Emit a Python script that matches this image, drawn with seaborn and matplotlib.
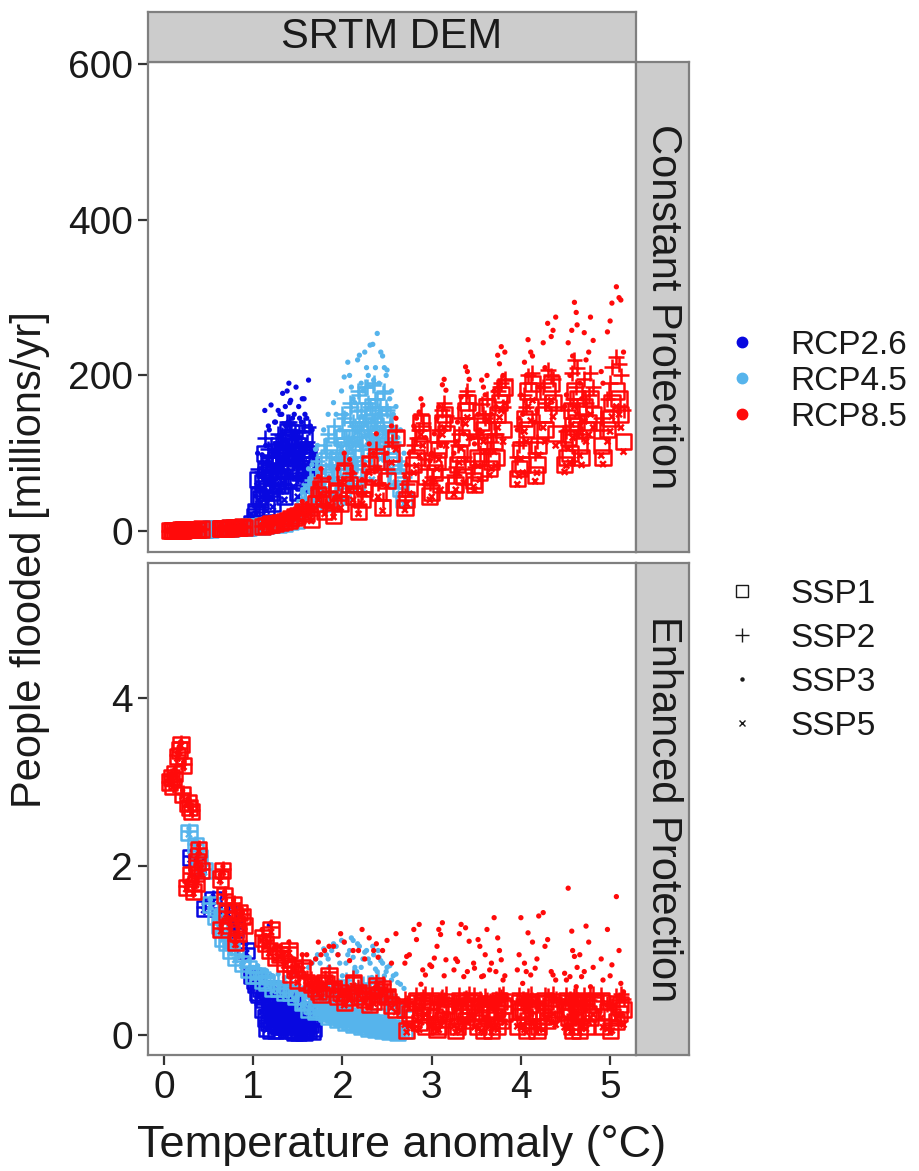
import matplotlib
matplotlib.use("Agg")
import matplotlib.pyplot as plt
from matplotlib.markers import MarkerStyle
from matplotlib.lines import Line2D
import seaborn as sns
import pandas as pd

# ---- data ---------------------------------------------------------------
# each RCP: temperature of every run, then people flooded (millions/yr)
# for constant (c) and enhanced (e) protection, per SSP

t26 = [0.30, 0.38, 0.45, 0.55, 0.72, 0.80, 0.92,
       0.98, 1.03, 1.05, 1.08, 1.12, 1.15, 1.18, 1.20, 1.24, 1.27,
       1.30, 1.33, 1.36, 1.39, 1.42, 1.45, 1.48, 1.52, 1.55, 1.58,
       1.62, 1.66, 1.22, 1.35, 1.50, 1.40, 1.28,
       1.02, 1.06, 1.10, 1.14, 1.17, 1.21, 1.25, 1.29, 1.32, 1.37, 1.41, 1.44, 1.47,
       1.51, 1.54, 1.57, 1.60, 1.64, 1.68, 1.13, 1.26, 1.38, 1.46, 1.56, 1.31]
c26_ssp1 = [1.6, 2.0, 2.3, 2.8, 3.7, 4.2, 5.0,
            10, 25, 66, 40, 55, 30, 75, 50, 85, 60,
            95, 70, 100, 80, 110, 65, 95, 75, 105, 85,
            100, 70, 35, 45, 50, 120, 110,
            18, 45, 62, 72, 88, 58, 92, 78, 105, 88, 118, 98, 78,
            110, 92, 118, 95, 85, 60, 100, 68, 128, 102, 62, 58]
c26_ssp2 = [1.8, 2.2, 2.6, 3.1, 4.1, 4.6, 5.5,
            14, 32, 80, 52, 70, 42, 95, 68, 105, 80,
            115, 92, 125, 105, 130, 90, 120, 100, 128, 110,
            134, 95, 50, 60, 70, 140, 125,
            24, 56, 76, 88, 106, 74, 112, 96, 124, 108, 136, 118, 96,
            128, 112, 136, 115, 105, 78, 120, 86, 140, 122, 80, 74]
c26_ssp3 = [2.1, 2.5, 3.0, 3.6, 4.7, 5.3, 6.5,
            20, 45, 100, 70, 95, 60, 130, 162, 140, 110,
            150, 177, 160, 140, 168, 125, 185, 145, 170, 150,
            194, 130, 75, 85, 100, 190, 155,
            32, 72, 98, 110, 135, 95, 140, 120, 150, 135, 165, 145, 120,
            160, 140, 170, 145, 135, 100, 155, 110, 180, 150, 100, 95]
c26_ssp5 = [1.5, 1.8, 2.1, 2.6, 3.4, 3.8, 4.6,
            9, 22, 58, 35, 48, 26, 66, 44, 75, 53,
            84, 62, 88, 70, 97, 57, 84, 66, 93, 75,
            88, 62, 31, 40, 44, 106, 97,
            16, 40, 55, 63, 77, 51, 81, 69, 92, 77, 104, 86, 69,
            97, 81, 104, 84, 75, 53, 88, 60, 113, 90, 55, 51]
e26_ssp1 = [2.10, 2.00, 1.50, 1.60, 1.45, 1.25, 1.00,
            0.70, 0.60, 0.50, 0.55, 0.42, 0.08, 0.35, 0.05, 0.28, 0.12,
            0.22, 0.25, 0.18, 0.20, 0.14, 0.16, 0.10, 0.12, 0.08, 0.06,
            0.05, 0.04, 0.25, 0.30, 0.18, 0.06, 0.10,
            0.65, 0.48, 0.30, 0.20, 0.15, 0.38, 0.05, 0.30, 0.10, 0.05, 0.22, 0.05, 0.25,
            0.03, 0.15, 0.03, 0.10, 0.12, 0.08, 0.55, 0.40, 0.32, 0.03, 0.20, 0.40]
e26_ssp2 = [2.12, 2.02, 1.52, 1.62, 1.47, 1.27, 1.03,
            0.72, 0.65, 0.55, 0.60, 0.48, 0.14, 0.42, 0.10, 0.35, 0.18,
            0.30, 0.32, 0.26, 0.28, 0.22, 0.24, 0.18, 0.20, 0.15, 0.14,
            0.12, 0.10, 0.32, 0.36, 0.26, 0.12, 0.16,
            0.70, 0.54, 0.36, 0.26, 0.21, 0.44, 0.11, 0.36, 0.16, 0.11, 0.28, 0.11, 0.31,
            0.09, 0.21, 0.09, 0.16, 0.18, 0.14, 0.61, 0.46, 0.38, 0.09, 0.26, 0.46]
e26_ssp3 = [2.15, 2.05, 1.55, 1.65, 1.50, 1.30, 1.08,
            0.78, 0.75, 0.70, 0.72, 0.65, 0.30, 1.30, 0.70, 0.55, 0.40,
            0.50, 0.58, 0.45, 0.52, 0.40, 0.48, 0.36, 0.42, 0.32, 0.38,
            0.30, 0.34, 0.50, 0.55, 0.45, 0.30, 0.35,
            0.75, 0.65, 0.50, 0.45, 0.40, 0.55, 0.35, 0.50, 0.40, 0.33, 0.45, 0.30, 0.48,
            0.28, 0.40, 0.25, 0.35, 0.38, 0.30, 0.70, 0.62, 0.55, 0.30, 0.45, 0.60]
e26_ssp5 = [2.08, 1.98, 1.48, 1.58, 1.43, 1.22, 0.97,
            0.66, 0.56, 0.46, 0.51, 0.38, 0.06, 0.31, 0.04, 0.25, 0.10,
            0.19, 0.22, 0.15, 0.17, 0.11, 0.13, 0.08, 0.09, 0.06, 0.05,
            0.04, 0.03, 0.22, 0.26, 0.15, 0.05, 0.08,
            0.62, 0.45, 0.27, 0.17, 0.12, 0.35, 0.03, 0.27, 0.08, 0.03, 0.19, 0.03, 0.22,
            0.02, 0.12, 0.02, 0.08, 0.10, 0.06, 0.52, 0.37, 0.29, 0.02, 0.17, 0.37]

t45 = [0.28, 0.35, 0.45, 0.52, 0.58, 0.66, 0.75, 0.88, 1.00, 1.10, 1.22, 1.35, 1.48,
       1.55, 1.62, 1.70, 1.75, 1.82, 1.88, 1.93, 1.97, 2.02, 2.06,
       2.10, 2.14, 2.19, 2.23, 2.27, 2.31, 2.35, 2.39, 2.43, 2.47,
       2.50, 2.55, 2.60, 2.65, 2.69,
       1.85, 2.00, 2.16, 2.33,
       1.58, 1.66, 1.72, 1.79, 1.84, 1.90, 1.95, 1.99, 2.04, 2.08, 2.12, 2.17, 2.21,
       2.25, 2.29, 2.34, 2.37, 2.41, 2.45, 2.49, 2.53, 2.57, 2.62, 2.12, 2.40,
       0.40, 0.62, 0.70, 0.80, 0.95, 1.05, 1.15, 1.28, 1.42]
c45_ssp1 = [1.5, 1.8, 2.3, 2.7, 3.0, 3.4, 3.9, 4.8, 5.5, 6.5, 8, 10, 14,
            25, 45, 60, 40, 75, 55, 90, 70, 110, 80,
            120, 95, 130, 100, 140, 115, 150, 125, 105, 140,
            110, 90, 70, 55, 40,
            35, 45, 60, 75,
            30, 50, 70, 85, 95, 105, 60, 120, 90, 130, 105, 145, 120,
            155, 130, 160, 135, 120, 150, 125, 100, 85, 65, 70, 90,
            2.0, 3.2, 3.6, 4.2, 5.2, 6.0, 7.0, 9, 12]
c45_ssp2 = [1.7, 2.0, 2.6, 3.0, 3.3, 3.8, 4.3, 5.3, 6.1, 7.3, 9, 12, 18,
            35, 60, 80, 57, 100, 80, 120, 100, 145, 115,
            160, 135, 175, 140, 185, 160, 190, 170, 150, 180,
            155, 130, 110, 85, 70,
            50, 65, 85, 105,
            40, 65, 90, 110, 125, 135, 85, 150, 120, 165, 140, 180, 155,
            185, 165, 188, 170, 155, 178, 160, 135, 115, 90, 95, 120,
            2.2, 3.5, 4.0, 4.6, 5.7, 6.6, 7.8, 10, 15]
c45_ssp3 = [2.0, 2.3, 3.0, 3.4, 3.8, 4.3, 5.0, 6.1, 7.0, 8.5, 11, 15, 24,
            50, 80, 105, 75, 117, 100, 150, 130, 198, 217,
            185, 165, 226, 180, 210, 239, 194, 254, 230, 210,
            207, 180, 160, 130, 100,
            70, 90, 115, 140,
            55, 85, 110, 130, 150, 165, 110, 180, 150, 200, 170, 220, 190,
            230, 200, 240, 210, 190, 225, 200, 170, 150, 120, 120, 150,
            2.6, 4.0, 4.6, 5.4, 6.6, 7.6, 9.0, 13, 20]
c45_ssp5 = [1.4, 1.7, 2.1, 2.5, 2.8, 3.2, 3.6, 4.4, 5.0, 6.0, 7, 9, 12,
            22, 40, 53, 35, 66, 48, 80, 62, 97, 71,
            106, 84, 115, 88, 124, 102, 133, 110, 93, 124,
            97, 80, 62, 48, 35,
            31, 40, 53, 66,
            26, 44, 62, 75, 84, 93, 53, 106, 80, 115, 93, 128, 106,
            137, 115, 141, 119, 106, 133, 110, 88, 75, 57, 62, 80,
            1.9, 2.9, 3.3, 3.8, 4.7, 5.4, 6.3, 8, 10]
e45_ssp1 = [2.40, 2.25, 1.95, 1.55, 1.40, 1.15, 1.00, 0.85, 0.70, 0.65, 0.55, 0.50, 0.45,
            0.38, 0.30, 0.28, 0.35, 0.25, 0.30, 0.22, 0.25, 0.20, 0.23,
            0.18, 0.20, 0.16, 0.18, 0.14, 0.16, 0.12, 0.14, 0.12, 0.10,
            0.10, 0.08, 0.07, 0.05, 0.05,
            0.32, 0.25, 0.20, 0.15,
            0.40, 0.35, 0.30, 0.28, 0.22, 0.24, 0.18, 0.20, 0.15, 0.16, 0.12, 0.14, 0.10,
            0.12, 0.08, 0.10, 0.06, 0.08, 0.05, 0.06, 0.04, 0.05, 0.03, 0.28, 0.22,
            2.10, 1.30, 1.10, 0.92, 0.78, 0.70, 0.62, 0.55, 0.50]
e45_ssp2 = [2.42, 2.27, 1.97, 1.57, 1.42, 1.17, 1.03, 0.88, 0.74, 0.69, 0.60, 0.56, 0.52,
            0.50, 0.45, 0.48, 0.52, 0.45, 0.55, 0.50, 0.48, 0.55, 0.60,
            0.45, 0.50, 0.55, 0.60, 0.48, 0.52, 0.45, 0.55, 0.50, 0.45,
            0.40, 0.38, 0.35, 0.30, 0.28,
            0.50, 0.45, 0.40, 0.42,
            0.55, 0.50, 0.58, 0.45, 0.62, 0.50, 0.58, 0.45, 0.65, 0.50, 0.60, 0.42, 0.58,
            0.50, 0.62, 0.48, 0.55, 0.45, 0.52, 0.42, 0.45, 0.40, 0.35, 0.70, 0.65,
            2.12, 1.33, 1.13, 0.96, 0.82, 0.75, 0.68, 0.62, 0.58]
e45_ssp3 = [2.45, 2.30, 2.00, 1.60, 1.45, 1.20, 1.07, 0.93, 0.80, 0.76, 0.70, 0.68, 0.70,
            0.75, 0.80, 0.90, 0.85, 0.95, 1.00, 1.05, 0.85, 1.10, 0.95,
            1.15, 0.80, 1.05, 0.90, 1.00, 0.85, 0.95, 0.75, 0.88, 0.70,
            0.80, 0.65, 0.72, 0.60, 0.55,
            0.80, 0.70, 0.75, 0.68,
            0.70, 0.85, 0.95, 1.02, 0.90, 1.08, 0.95, 1.12, 0.85, 1.00, 0.92, 1.08, 0.80,
            0.98, 0.90, 1.05, 0.78, 0.92, 0.85, 0.75, 0.82, 0.70, 0.62, 1.12, 1.00,
            2.15, 1.36, 1.17, 1.00, 0.88, 0.82, 0.76, 0.72, 0.72]
e45_ssp5 = [2.38, 2.23, 1.93, 1.53, 1.38, 1.13, 0.98, 0.82, 0.67, 0.62, 0.52, 0.47, 0.42,
            0.34, 0.27, 0.25, 0.31, 0.22, 0.27, 0.19, 0.22, 0.17, 0.20,
            0.15, 0.17, 0.13, 0.15, 0.12, 0.13, 0.10, 0.11, 0.10, 0.08,
            0.08, 0.06, 0.05, 0.04, 0.04,
            0.28, 0.22, 0.17, 0.13,
            0.36, 0.31, 0.27, 0.25, 0.19, 0.21, 0.15, 0.17, 0.13, 0.13, 0.10, 0.12, 0.08,
            0.10, 0.07, 0.08, 0.05, 0.06, 0.04, 0.05, 0.03, 0.04, 0.02, 0.25, 0.19,
            2.08, 1.27, 1.07, 0.89, 0.75, 0.67, 0.59, 0.52, 0.47]

t85 = [0.06, 0.10, 0.15, 0.19, 0.22, 0.27, 0.31, 0.25, 0.33, 0.37, 0.42,
       0.63, 0.68, 0.64, 0.74, 0.85, 0.90,
       1.10, 1.18, 1.25, 1.35, 1.42, 1.50,
       1.65, 1.70, 1.76, 1.80,
       1.90, 1.95, 2.02,
       2.18, 2.25, 2.30,
       2.45, 2.50, 2.55, 2.60,
       2.70, 2.75, 2.80, 2.86, 2.90, 2.93,
       2.98, 3.03, 3.08, 3.12, 3.16, 3.10,
       3.25, 3.29, 3.33, 3.38, 3.42, 3.36,
       3.48, 3.52, 3.56, 3.60, 3.54,
       3.65, 3.70, 3.74, 3.78, 3.80, 3.72,
       3.96, 4.00, 4.04, 4.08, 4.11, 4.02,
       4.16, 4.20, 4.25, 4.30, 4.36, 4.39,
       4.49, 4.53, 4.57, 4.60, 4.62, 4.55,
       4.68, 4.73, 4.78, 4.81,
       4.92, 4.97, 5.02, 5.07, 5.12, 5.15,
       0.08, 0.17, 0.29, 0.36, 0.66, 0.78, 0.83, 0.88,
       1.14, 1.30, 1.46, 1.60, 1.73, 1.98, 2.08, 2.22, 2.35, 2.40,
       2.72, 2.83, 2.88, 3.00, 3.06, 3.14, 3.27, 3.31, 3.40, 3.47,
       3.58, 3.62, 3.67, 3.76, 3.82, 3.98, 4.06, 4.13, 4.18, 4.27,
       4.34, 4.51, 4.58, 4.63, 4.66, 4.71, 4.76, 4.90, 5.00, 5.10,
       0.12, 0.21, 0.30, 0.39, 0.70, 0.80, 1.20, 1.40, 1.55, 1.85, 2.12, 2.38]
c85_ssp1 = [0.5, 1.0, 1.0, 1.2, 1.4, 1.6, 1.8, 1.5, 1.9, 2.2, 2.5,
            3.0, 3.4, 3.2, 3.8, 4.5, 5.0,
            6, 8, 10, 12, 16, 20,
            15, 35, 55, 25,
            20, 50, 75,
            25, 55, 85,
            30, 65, 100, 120,
            30, 55, 85, 110, 125, 70,
            45, 75, 105, 140, 125, 60,
            52, 85, 120, 155, 135, 70,
            60, 95, 140, 115, 75,
            80, 115, 150, 175, 130, 95,
            68, 105, 145, 180, 160, 85,
            72, 110, 150, 180, 165, 125,
            85, 120, 155, 180, 140, 100,
            95, 130, 170, 150,
            95, 130, 165, 180, 150, 115,
            0.7, 1.1, 1.7, 2.0, 3.3, 4.0, 4.3, 5.3,
            7, 11, 18, 22, 45, 35, 60, 40, 70, 50,
            40, 95, 140, 50, 90, 150, 60, 100, 165, 65,
            130, 160, 90, 165, 185, 80, 130, 190, 85, 130,
            190, 95, 135, 170, 110, 160, 140, 110, 145, 170,
            0.9, 1.3, 1.7, 2.1, 3.6, 4.2, 9, 14, 25, 40, 45, 90]
c85_ssp2 = [0.6, 1.1, 1.2, 1.3, 1.5, 1.8, 2.0, 1.7, 2.1, 2.4, 2.8,
            3.3, 3.7, 3.5, 4.2, 5.0, 5.5,
            7, 10, 12, 15, 19, 24,
            20, 45, 68, 32,
            27, 62, 88,
            32, 66, 96,
            40, 80, 115, 128,
            45, 75, 110, 130, 139, 92,
            62, 98, 130, 155, 148, 80,
            72, 110, 145, 175, 165, 95,
            82, 120, 163, 145, 100,
            105, 140, 180, 190, 160, 125,
            95, 135, 175, 200, 190, 115,
            100, 140, 185, 207, 195, 160,
            115, 155, 203, 220, 185, 135,
            125, 165, 203, 185,
            130, 170, 211, 224, 200, 155,
            0.8, 1.2, 1.9, 2.2, 3.6, 4.4, 4.7, 5.8,
            9, 14, 22, 28, 56, 45, 74, 50, 84, 62,
            60, 120, 150, 70, 115, 165, 82, 125, 180, 90,
            150, 170, 115, 185, 195, 110, 160, 203, 115, 165,
            200, 128, 170, 210, 140, 195, 175, 145, 190, 215,
            1.0, 1.4, 1.9, 2.3, 4.0, 4.6, 11, 17, 30, 52, 58, 105]
c85_ssp3 = [0.8, 1.3, 1.4, 1.5, 1.8, 2.0, 2.3, 1.9, 2.4, 2.8, 3.1,
            3.8, 4.2, 4.0, 4.8, 5.8, 6.3,
            9, 12, 15, 19, 24, 30,
            28, 60, 80, 45,
            40, 80, 100,
            48, 85, 112,
            60, 100, 135, 145,
            70, 100, 135, 153, 162, 120,
            90, 125, 160, 188, 181, 110,
            100, 140, 172, 211, 195, 125,
            112, 150, 194, 175, 130,
            140, 180, 226, 237, 200, 160,
            130, 175, 217, 246, 230, 150,
            140, 185, 242, 267, 258, 275,
            160, 242, 258, 294, 281, 200,
            170, 220, 275, 245,
            190, 256, 293, 314, 297, 230,
            1.0, 1.4, 2.1, 2.5, 4.1, 5.0, 5.3, 6.6,
            11, 17, 27, 35, 70, 60, 92, 66, 100, 80,
            85, 145, 170, 100, 145, 195, 115, 158, 205, 120,
            185, 200, 150, 215, 230, 145, 200, 225, 155, 210,
            250, 175, 225, 265, 190, 255, 230, 205, 270, 300,
            1.2, 1.7, 2.2, 2.7, 4.5, 5.3, 14, 22, 38, 68, 75, 125]
c85_ssp5 = [0.4, 0.9, 0.9, 1.1, 1.3, 1.5, 1.7, 1.4, 1.8, 2.0, 2.3,
            2.8, 3.1, 2.9, 3.5, 4.1, 4.6,
            5, 7, 9, 11, 14, 18,
            13, 30, 48, 22,
            18, 44, 66,
            22, 48, 75,
            26, 58, 88, 105,
            27, 48, 75, 97, 110, 62,
            40, 66, 92, 124, 110, 53,
            47, 75, 106, 138, 120, 62,
            53, 84, 125, 102, 66,
            72, 102, 133, 155, 115, 84,
            60, 93, 128, 160, 142, 75,
            64, 98, 133, 160, 147, 110,
            76, 106, 137, 160, 124, 88,
            85, 115, 150, 133,
            86, 115, 147, 160, 133, 102,
            0.6, 1.0, 1.6, 1.8, 3.0, 3.6, 3.9, 4.8,
            6, 10, 16, 19, 40, 30, 52, 35, 62, 44,
            35, 84, 124, 44, 80, 133, 53, 88, 146, 57,
            115, 142, 80, 146, 164, 71, 115, 168, 75, 115,
            168, 84, 120, 150, 97, 141, 124, 97, 128, 150,
            0.8, 1.2, 1.6, 1.9, 3.3, 3.8, 8, 12, 22, 35, 40, 80]
e85_ssp1 = [3.00, 2.95, 3.30, 3.45, 3.20, 2.75, 2.65, 1.75, 1.70, 2.05, 1.95,
            1.85, 1.65, 1.25, 1.30, 1.45, 1.30,
            1.15, 1.00, 0.92, 0.85, 0.72, 0.65,
            0.60, 0.55, 0.48, 0.62,
            0.55, 0.45, 0.38,
            0.50, 0.42, 0.36,
            0.55, 0.45, 0.35, 0.30,
            0.30, 0.25, 0.20, 0.15, 0.35, 0.10,
            0.28, 0.22, 0.10, 0.18, 0.35, 0.30,
            0.28, 0.10, 0.22, 0.17, 0.35, 0.30,
            0.26, 0.10, 0.20, 0.36, 0.32,
            0.28, 0.22, 0.10, 0.17, 0.35, 0.30,
            0.10, 0.28, 0.22, 0.17, 0.36, 0.30,
            0.28, 0.10, 0.22, 0.17, 0.36, 0.30,
            0.27, 0.21, 0.10, 0.16, 0.36, 0.30,
            0.27, 0.10, 0.21, 0.36,
            0.10, 0.27, 0.21, 0.16, 0.36, 0.30,
            3.05, 3.38, 2.70, 1.80, 1.95, 1.55, 1.20, 1.40,
            1.08, 0.95, 0.78, 0.62, 0.52, 0.50, 0.44, 0.46, 0.40, 0.48,
            0.05, 0.40, 0.24, 0.40, 0.06, 0.25, 0.05, 0.40, 0.25, 0.40,
            0.05, 0.25, 0.05, 0.40, 0.25, 0.40, 0.05, 0.25, 0.05, 0.40,
            0.25, 0.40, 0.05, 0.25, 0.05, 0.40, 0.25, 0.40, 0.05, 0.25,
            3.10, 2.85, 1.90, 2.20, 1.45, 1.10, 1.25, 1.00, 0.80, 0.70, 0.62, 0.58]
e85_ssp2 = [3.00, 2.96, 3.32, 3.47, 3.22, 2.77, 2.67, 1.77, 1.72, 2.07, 1.97,
            1.87, 1.67, 1.27, 1.33, 1.48, 1.33,
            1.18, 1.03, 0.96, 0.89, 0.76, 0.70,
            0.66, 0.62, 0.55, 0.68,
            0.62, 0.52, 0.46,
            0.57, 0.50, 0.44,
            0.60, 0.52, 0.45, 0.40,
            0.42, 0.40, 0.38, 0.36, 0.45, 0.48,
            0.40, 0.38, 0.36, 0.45, 0.48, 0.42,
            0.40, 0.38, 0.35, 0.44, 0.48, 0.42,
            0.40, 0.37, 0.34, 0.46, 0.43,
            0.40, 0.38, 0.35, 0.45, 0.48, 0.42,
            0.40, 0.38, 0.35, 0.46, 0.48, 0.42,
            0.40, 0.38, 0.35, 0.46, 0.48, 0.42,
            0.40, 0.38, 0.35, 0.46, 0.48, 0.42,
            0.40, 0.37, 0.46, 0.48,
            0.40, 0.37, 0.34, 0.46, 0.48, 0.42,
            3.07, 3.40, 2.72, 1.82, 1.97, 1.57, 1.23, 1.43,
            1.12, 0.99, 0.82, 0.67, 0.58, 0.56, 0.50, 0.52, 0.46, 0.54,
            0.38, 0.47, 0.41, 0.47, 0.38, 0.41, 0.38, 0.47, 0.41, 0.47,
            0.38, 0.41, 0.38, 0.47, 0.41, 0.47, 0.38, 0.41, 0.38, 0.47,
            0.41, 0.47, 0.38, 0.41, 0.38, 0.47, 0.41, 0.47, 0.38, 0.41,
            3.12, 2.87, 1.92, 2.22, 1.47, 1.13, 1.28, 1.04, 0.85, 0.75, 0.68, 0.63]
e85_ssp3 = [3.02, 2.98, 3.35, 3.48, 3.24, 2.80, 2.70, 1.80, 1.75, 2.10, 2.00,
            1.90, 1.70, 1.30, 1.36, 1.52, 1.37,
            1.25, 1.10, 1.05, 0.98, 0.88, 0.82,
            0.85, 0.90, 0.95, 1.00,
            1.05, 0.95, 1.10,
            1.00, 0.90, 1.15,
            1.00, 1.12, 0.85, 1.20,
            0.85, 0.95, 1.25, 1.31, 0.77, 0.71,
            0.83, 0.91, 1.25, 1.33, 0.89, 1.19,
            0.77, 0.87, 1.31, 1.27, 1.11, 0.69,
            0.79, 1.13, 0.69, 0.95, 1.05,
            0.77, 1.39, 1.15, 0.89, 0.65, 0.75,
            0.77, 1.39, 0.85, 1.21, 0.71, 0.61,
            0.79, 1.41, 1.45, 1.13, 0.71, 0.65,
            0.73, 1.74, 1.23, 0.93, 0.57, 0.69,
            0.69, 1.29, 0.57, 0.80,
            0.65, 1.25, 0.83, 1.64, 0.61, 0.51,
            3.09, 3.42, 2.75, 1.85, 2.00, 1.60, 1.26, 1.45,
            1.18, 1.05, 0.90, 0.95, 1.10, 1.20, 0.88, 1.25, 1.00, 0.92,
            0.93, 1.13, 0.60, 0.81, 1.05, 0.70, 0.90, 1.20, 0.75, 0.85,
            0.70, 1.25, 0.85, 1.00, 0.70, 0.95, 0.75, 1.10, 0.90, 1.05,
            0.75, 0.65, 1.00, 0.80, 0.95, 0.75, 1.10, 0.90, 0.70, 1.00,
            3.15, 2.90, 1.95, 2.25, 1.50, 1.16, 1.33, 1.10, 0.95, 1.05, 1.00, 1.08]
e85_ssp5 = [2.98, 2.94, 3.28, 3.43, 3.18, 2.73, 2.63, 1.73, 1.68, 2.03, 1.93,
            1.83, 1.63, 1.23, 1.28, 1.42, 1.28,
            1.12, 0.97, 0.90, 0.82, 0.70, 0.62,
            0.57, 0.52, 0.45, 0.58,
            0.52, 0.42, 0.35,
            0.46, 0.38, 0.33,
            0.50, 0.41, 0.32, 0.27,
            0.12, 0.10, 0.08, 0.06, 0.20, 0.25,
            0.10, 0.08, 0.06, 0.20, 0.25, 0.12,
            0.10, 0.08, 0.05, 0.18, 0.24, 0.12,
            0.09, 0.07, 0.05, 0.20, 0.14,
            0.10, 0.08, 0.06, 0.20, 0.25, 0.12,
            0.10, 0.08, 0.06, 0.20, 0.25, 0.12,
            0.10, 0.08, 0.06, 0.20, 0.25, 0.12,
            0.09, 0.07, 0.05, 0.20, 0.25, 0.12,
            0.10, 0.07, 0.20, 0.24,
            0.09, 0.07, 0.05, 0.20, 0.24, 0.12,
            3.03, 3.36, 2.68, 1.78, 1.93, 1.53, 1.17, 1.37,
            1.05, 0.92, 0.75, 0.59, 0.49, 0.47, 0.41, 0.43, 0.37, 0.45,
            0.03, 0.18, 0.15, 0.20, 0.04, 0.15, 0.03, 0.18, 0.15, 0.20,
            0.03, 0.15, 0.03, 0.20, 0.15, 0.20, 0.03, 0.15, 0.03, 0.20,
            0.15, 0.20, 0.03, 0.15, 0.03, 0.20, 0.15, 0.20, 0.03, 0.15,
            3.08, 2.83, 1.88, 2.18, 1.43, 1.07, 1.22, 0.97, 0.77, 0.67, 0.58, 0.55]

rcp_names = ["RCP2.6", "RCP4.5", "RCP8.5"]
ssp_names = ["SSP1", "SSP2", "SSP3", "SSP5"]
panel_names = ["Constant Protection", "Enhanced Protection"]
rcp_colors = {"RCP2.6": "#0808E0", "RCP4.5": "#56B4EC", "RCP8.5": "#FF0A0A"}

runs = {
    "RCP2.6": (t26, [c26_ssp1, c26_ssp2, c26_ssp3, c26_ssp5],
               [e26_ssp1, e26_ssp2, e26_ssp3, e26_ssp5]),
    "RCP4.5": (t45, [c45_ssp1, c45_ssp2, c45_ssp3, c45_ssp5],
               [e45_ssp1, e45_ssp2, e45_ssp3, e45_ssp5]),
    "RCP8.5": (t85, [c85_ssp1, c85_ssp2, c85_ssp3, c85_ssp5],
               [e85_ssp1, e85_ssp2, e85_ssp3, e85_ssp5]),
}

parts = []
for rcp in rcp_names:
    t, const, enh = runs[rcp]
    for panel, series in zip(panel_names, (const, enh)):
        for ssp, vals in zip(ssp_names, series):
            parts.append(pd.DataFrame({"temp": t, "flooded": vals, "RCP": rcp,
                                       "SSP": ssp, "panel": panel}))
df = pd.concat(parts, ignore_index=True)

# ---- figure ---------------------------------------------------------------
plt.rcParams["font.family"] = ["Liberation Sans", "DejaVu Sans"]
TXT = "#1A1A1A"
GREY = "#7F7F7F"
W, H = 920, 1171
fig = plt.figure(figsize=(W / 100, H / 100), dpi=100)


def box(x0, y0, x1, y1):
    return [x0 / W, 1 - y1 / H, (x1 - x0) / W, (y1 - y0) / H]


ax_top = fig.add_axes(box(148, 62, 636, 552))
ax_bot = fig.add_axes(box(148, 563, 636, 1055))

markers = {"SSP1": MarkerStyle("s", fillstyle="none"), "SSP2": "+",
           "SSP3": MarkerStyle("o", fillstyle="none"), "SSP5": "x"}
sizes = {"SSP1": 120, "SSP2": 130, "SSP3": 4, "SSP5": 18}

for ax, panel in zip((ax_top, ax_bot), panel_names):
    sub = df[df["panel"] == panel]
    sns.scatterplot(data=sub, x="temp", y="flooded", hue="RCP", style="SSP",
                    size="SSP", hue_order=rcp_names, style_order=ssp_names,
                    size_order=ssp_names, palette=rcp_colors, markers=markers,
                    sizes=sizes, linewidth=1.8, legend=False, ax=ax)
    # open squares: edges carry the colour, only the dots stay filled
    coll = ax.collections[-1]
    edge = coll.get_facecolors().copy()
    face = edge.copy()
    face[(sub["SSP"] != "SSP3").to_numpy(), 3] = 0
    coll.set_edgecolors(edge)
    coll.set_facecolors(face)

    ax.set_xlim(-0.179, 5.29)
    ax.set_xlabel("")
    ax.set_ylabel("")
    for s in ax.spines.values():
        s.set_color(GREY)
        s.set_linewidth(1.6)
    ax.tick_params(length=7, width=1.6, color="#333333", labelsize=28,
                   labelcolor=TXT, pad=4)

ax_top.set_ylim(-27, 603)
ax_top.set_yticks([0, 200, 400, 600])
ax_top.tick_params(axis="x", bottom=False, labelbottom=False)
ax_bot.set_ylim(-0.24, 5.60)
ax_bot.set_yticks([0, 2, 4])
ax_bot.set_xticks([0, 1, 2, 3, 4, 5])


def strip(rect, label, rotation):
    sax = fig.add_axes(rect)
    sax.set_facecolor("#CCCCCC")
    sax.set_xticks([])
    sax.set_yticks([])
    for s in sax.spines.values():
        s.set_color(GREY)
        s.set_linewidth(1.6)
    sax.text(0.5, 0.5, label, rotation=rotation, ha="center", va="center",
             fontsize=30, color=TXT, transform=sax.transAxes)


strip(box(148, 12, 636, 62), "SRTM DEM", 0)
strip(box(636, 62, 689, 552), panel_names[0], -90)
strip(box(636, 563, 689, 1055), panel_names[1], -90)

fig.text(402 / W, 1 - 1145 / H, "Temperature anomaly (°C)", ha="center",
         va="center", fontsize=32.5, color=TXT)
fig.text(30 / W, 1 - 560 / H, "People flooded [millions/yr]", ha="center",
         va="center", rotation=90, fontsize=30, color=TXT)

# ---- legends --------------------------------------------------------------
rcp_handles = [Line2D([], [], ls="", marker="o", ms=7.5, color=rcp_colors[r])
               for r in rcp_names]
fig.legend(rcp_handles, rcp_names, loc="upper left",
           bbox_to_anchor=(725 / W, 1 - 330 / H), frameon=False, fontsize=24,
           handlelength=1.0, handletextpad=0.95, labelspacing=0.15,
           borderpad=0, borderaxespad=0, labelcolor=TXT)

ssp_handles = [
    Line2D([], [], ls="", marker=MarkerStyle("s", fillstyle="none"), ms=8.5,
           mew=1.0, color=TXT),
    Line2D([], [], ls="", marker="+", ms=10, mew=1.0, color=TXT),
    Line2D([], [], ls="", marker="o", ms=2.2, color=TXT),
    Line2D([], [], ls="", marker="x", ms=4.5, mew=1.0, color=TXT),
]
fig.legend(ssp_handles, ssp_names, loc="upper left",
           bbox_to_anchor=(725 / W, 1 - 579 / H), frameon=False, fontsize=24,
           handlelength=1.0, handletextpad=0.95, labelspacing=0.39,
           borderpad=0, borderaxespad=0, labelcolor=TXT)

fig.savefig("out.png", dpi=100)
